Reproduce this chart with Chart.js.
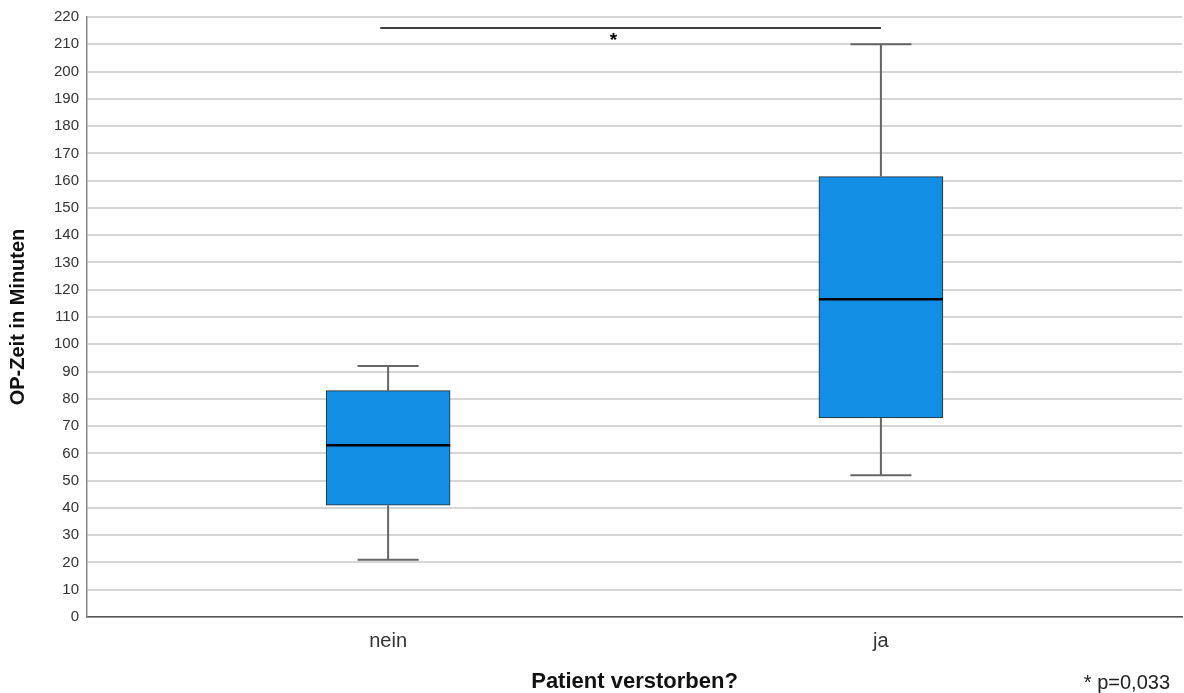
<!DOCTYPE html>
<html>
<head>
<meta charset="utf-8">
<script src="https://cdn.jsdelivr.net/npm/chart.js@4"></script>
<style>
  html, body { margin: 0; padding: 0; background: #fff; }
  #wrap { width: 1184px; height: 693px; }
</style>
</head>
<body>
<div id="wrap"><canvas id="boxChart"></canvas></div>
<script>
// Data
var groups = ['nein', 'ja'];
var whiskerLow = [21, 52];
var q1 = [41, 73];
var median = [63, 116.5];
var q3 = [83, 161.5];
var whiskerHigh = [92, 210];
var yTicks = [0, 10, 20, 30, 40, 50, 60, 70, 80, 90, 100, 110, 120, 130, 140, 150, 160, 170, 180, 190, 200, 210, 220];

// significance bracket between the two groups
var bracketFrom = 0.984;
var bracketTo = 2;
var bracketValue = 216;
var starPos = 1.457;
var starValue = 212.5;
var pNote = '* p=0,033';

var boxHalf = 0.126;
var capHalf = 0.062;

// build whisker segments (null between segments)
var whiskerPts = [];
var medianPts = [];
groups.forEach(function (g, i) {
    var c = i + 1;
    whiskerPts.push({x: c, y: q3[i]}, {x: c, y: whiskerHigh[i]}, {x: c, y: null});
    whiskerPts.push({x: c - capHalf, y: whiskerHigh[i]}, {x: c + capHalf, y: whiskerHigh[i]}, {x: c, y: null});
    whiskerPts.push({x: c, y: q1[i]}, {x: c, y: whiskerLow[i]}, {x: c, y: null});
    whiskerPts.push({x: c - capHalf, y: whiskerLow[i]}, {x: c + capHalf, y: whiskerLow[i]}, {x: c, y: null});
    medianPts.push({x: c - boxHalf, y: median[i]}, {x: c + boxHalf, y: median[i]}, {x: c, y: null});
});

var annotate = {
    id: 'annotate',
    afterDatasetsDraw: function (chart) {
        var ctx = chart.ctx;
        var xs = chart.scales.x, ys = chart.scales.y;
        ctx.save();
        ctx.fillStyle = '#000';
        ctx.font = 'bold 19px "Liberation Sans", Arial, sans-serif';
        ctx.textAlign = 'center';
        ctx.textBaseline = 'middle';
        ctx.fillText('*', xs.getPixelForValue(starPos), ys.getPixelForValue(starValue) + 3);
        ctx.font = '20px "Liberation Sans", Arial, sans-serif';
        ctx.textAlign = 'right';
        ctx.textBaseline = 'middle';
        ctx.fillStyle = '#222';
        ctx.fillText(pNote, 1170, 683);
        ctx.restore();
    }
};

var ctxBox = document.getElementById('boxChart').getContext('2d');
var boxChart = new Chart(ctxBox, {
    data: {
        datasets: [{
            type: 'line',
            label: 'Median',
            data: medianPts,
            borderColor: '#000',
            borderWidth: 2.5,
            pointRadius: 0,
            spanGaps: false,
            order: 1
        }, {
            type: 'line',
            label: 'Signifikanz',
            data: [{x: bracketFrom, y: bracketValue}, {x: bracketTo, y: bracketValue}],
            borderColor: '#000',
            borderWidth: 1.5,
            pointRadius: 0,
            order: 1
        }, {
            type: 'line',
            label: 'Whisker',
            data: whiskerPts,
            borderColor: '#666',
            borderWidth: 2,
            pointRadius: 0,
            spanGaps: false,
            order: 2
        }, {
            type: 'bar',
            label: 'IQR',
            data: groups.map(function (g, i) { return {x: i + 1, y: [q1[i], q3[i]]}; }),
            backgroundColor: '#128ee5',
            borderColor: '#2a2a2a',
            borderWidth: 1,
            borderSkipped: false,
            barThickness: 124,
            order: 3
        }]
    },
    options: {
        responsive: true,
        maintainAspectRatio: false,
        animation: false,
        layout: { padding: { top: 10, right: 2, bottom: 0, left: 6 } },
        plugins: {
            legend: { display: false },
            tooltip: { enabled: false }
        },
        scales: {
            x: {
                type: 'linear',
                offset: false,
                min: 0.389,
                max: 2.611,
                afterBuildTicks: function (scale) {
                    scale.ticks = groups.map(function (g, i) { return {value: i + 1}; });
                },
                ticks: {
                    autoSkip: false,
                    maxRotation: 0,
                    padding: 12,
                    color: '#333',
                    font: { family: '"Liberation Sans", Arial, sans-serif', size: 20 },
                    callback: function (v) { return groups[v - 1]; }
                },
                grid: { display: false, drawTicks: false, offset: false },
                border: { color: '#555', width: 1.5 },
                title: {
                    display: true,
                    text: 'Patient verstorben?',
                    color: '#111',
                    padding: { top: 6, bottom: 0 },
                    font: { family: '"Liberation Sans", Arial, sans-serif', size: 22, weight: 'bold', lineHeight: 1 }
                }
            },
            y: {
                min: 0,
                max: 220,
                afterBuildTicks: function (scale) {
                    scale.ticks = yTicks.map(function (v) { return {value: v}; });
                },
                ticks: {
                    padding: 8,
                    color: '#333',
                    font: { family: '"Liberation Sans", Arial, sans-serif', size: 15 }
                },
                grid: { color: '#d6d6d6', lineWidth: 2, drawTicks: false },
                border: { color: '#888', width: 1.5 },
                title: {
                    display: true,
                    text: 'OP-Zeit in Minuten',
                    color: '#111',
                    padding: { top: 0, bottom: 16 },
                    font: { family: '"Liberation Sans", Arial, sans-serif', size: 20, weight: 'bold' }
                }
            }
        }
    },
    plugins: [annotate]
});
</script>
</body>
</html>
